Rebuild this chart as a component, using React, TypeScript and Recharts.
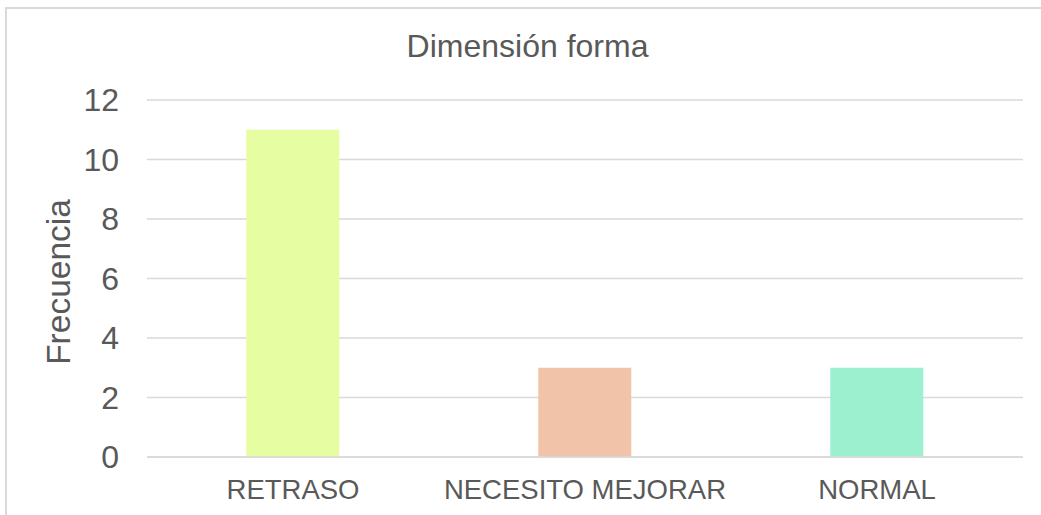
import { BarChart, Bar, XAxis, YAxis, CartesianGrid, Cell } from 'recharts';

const categories = ['RETRASO', 'NECESITO MEJORAR', 'NORMAL'];
const frecuencia = [11, 3, 3];
const yTicks = [0, 2, 4, 6, 8, 10, 12];

const COLORS = ['#E6FDA1', '#F1C4AA', '#9CF0D0'];

const data = categories.map((name, i) => ({ name, value: frecuencia[i] }));

const FONT = '"Liberation Sans", Arial, sans-serif';
const TEXT = '#595959';

export default function App() {
  return (
    <div
      style={{
        position: 'absolute',
        left: 0,
        top: 0,
        width: 1041,
        height: 515,
        overflow: 'hidden',
        background: '#fff',
        fontFamily: FONT,
      }}
    >
      {/* chart frame */}
      <div
        style={{
          position: 'absolute',
          left: 5,
          top: 7,
          width: 1100,
          height: 600,
          border: '2px solid #D9D9D9',
          boxSizing: 'border-box',
        }}
      />

      <div
        style={{
          position: 'absolute',
          left: 0,
          top: 30,
          width: 1055,
          textAlign: 'center',
          fontSize: 32,
          lineHeight: '32px',
          color: TEXT,
        }}
      >
        Dimensión forma
      </div>

      <div
        style={{
          position: 'absolute',
          left: 58,
          top: 282,
          transform: 'translate(-50%, -50%) rotate(-90deg)',
          fontSize: 33.5,
          lineHeight: '33px',
          color: TEXT,
          whiteSpace: 'nowrap',
        }}
      >
        Frecuencia
      </div>

      <div style={{ position: 'absolute', left: 0, top: 0 }}>
        <BarChart
          width={1041}
          height={515}
          data={data}
          margin={{ top: 100, right: 18, bottom: 0, left: 0 }}
          barCategoryGap="34%"
        >
          <CartesianGrid vertical={false} stroke="#D9D9D9" strokeWidth={1.5} />
          <XAxis
            dataKey="name"
            height={58}
            axisLine={{ stroke: '#D9D9D9', strokeWidth: 1.5 }}
            tickLine={false}
            tickSize={0}
            tickMargin={22}
            tick={{ fill: TEXT, fontSize: 27.5, fontFamily: FONT }}
            interval={0}
          />
          <YAxis
            width={147}
            domain={[0, 12]}
            ticks={yTicks}
            axisLine={false}
            tickLine={false}
            tickSize={0}
            tickMargin={28}
            tick={{ fill: TEXT, fontSize: 32, fontFamily: FONT }}
          />
          <Bar dataKey="value" isAnimationActive={false}>
            {data.map((entry, index) => (
              <Cell key={`cell-${index}`} fill={COLORS[index % COLORS.length]} />
            ))}
          </Bar>
        </BarChart>
      </div>
    </div>
  );
}
